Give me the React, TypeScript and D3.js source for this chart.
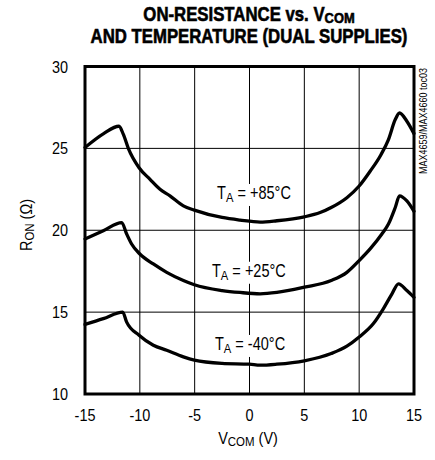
import React from 'react';
import * as d3 from 'd3';

// VCOM (V) and RON (ohm)
const VCOM_85 = [-15, -13.3, -11.9, -11.5, -11.05, -10.07, -9.07, -8.16, -7.25, -6.03, -5.03, -2.5, -0.86, 0.97, 2.49, 5.0, 6.44, 7.45, 8.88, 10.0, 11.0, 12.0, 12.67, 13.29, 13.68, 14.35, 15];
const RON_85 = [25.05, 25.9, 26.35, 25.85, 25.0, 23.82, 23.11, 22.5, 22.1, 21.49, 21.23, 20.78, 20.62, 20.5, 20.58, 20.82, 21.08, 21.39, 21.99, 22.7, 23.6, 24.63, 25.54, 26.76, 27.16, 26.66, 25.9];

const VCOM_25 = [-15, -13.33, -11.65, -11.2, -10.75, -10.0, -8.77, -7.55, -6.03, -5.03, -2.5, -0.86, 0.97, 2.49, 5.0, 7.45, 8.88, 10.0, 11.0, 12.07, 12.67, 13.29, 13.68, 14.35, 15];
const RON_25 = [19.47, 19.97, 20.47, 19.77, 19.16, 18.55, 17.94, 17.43, 16.93, 16.67, 16.32, 16.2, 16.12, 16.2, 16.52, 16.93, 17.43, 18.15, 18.86, 19.77, 20.38, 21.39, 22.1, 21.79, 21.15];

const VCOM_M40 = [-15, -13.33, -11.56, -11.2, -10.07, -8.77, -7.55, -6.03, -5.03, -2.5, 0, 0.97, 2.49, 5.0, 7.45, 8.88, 10.0, 11.3, 12.2, 12.98, 13.59, 14.35, 15];
const RON_M40 = [14.25, 14.6, 15.0, 14.39, 13.59, 12.98, 12.67, 12.27, 12.07, 11.87, 11.82, 11.76, 11.82, 12.03, 12.47, 12.92, 13.48, 14.3, 15.2, 16.1, 16.73, 16.32, 15.9];

const X_TICKS = [-15, -10, -5, 0, 5, 10, 15];
const Y_TICKS = [10, 15, 20, 25, 30];
const TEMP_LABELS = ['+85°C', '+25°C', '-40°C'];

const FONT = '"Liberation Sans", Arial, sans-serif';

const W = 435;
const H = 460;
const M = { left: 85, right: 21, top: 66.5, bottom: 66 };

// narrow text: Liberation Sans squeezed horizontally, like Helvetica Narrow
const Narrow: React.FC<{
  x: number;
  y: number;
  sx?: number;
  rotate?: number;
  anchor?: 'start' | 'middle' | 'end';
  size: number;
  bold?: boolean;
  children: React.ReactNode;
}> = ({ x, y, sx = 0.85, rotate = 0, anchor = 'start', size, bold, children }) => (
  <g transform={`translate(${x},${y}) rotate(${rotate}) scale(${sx},1)`}>
    <text
      textAnchor={anchor}
      fontSize={size}
      fontWeight={bold ? 'bold' : 'normal'}
      stroke={bold ? '#000' : 'none'}
      strokeWidth={bold ? 0.6 : 0}
    >
      {children}
    </text>
  </g>
);

export default function App() {
  const x = d3.scaleLinear().domain([-15, 15]).range([M.left, W - M.right]);
  const y = d3.scaleLinear().domain([10, 30]).range([H - M.bottom, M.top]);

  const line = d3
    .line<[number, number]>()
    .x((d) => x(d[0]))
    .y((d) => y(d[1]))
    .curve(d3.curveMonotoneX);

  const series = [
    { v: VCOM_85, r: RON_85 },
    { v: VCOM_25, r: RON_25 },
    { v: VCOM_M40, r: RON_M40 },
  ];

  // label anchors in data units (left edge of "T", baseline)
  const labelAt = [
    { v: -2.96, r: 21.91 },
    { v: -3.42, r: 17.16 },
    { v: -3.15, r: 12.69 },
  ];

  const [x0, x1] = x.range();
  const yBottom = y(10);
  const yTop = y(30);

  return (
    <svg width={W} height={H} style={{ position: 'absolute', left: 0, top: 0, background: '#fff' }} fontFamily={FONT}>
      {/* title */}
      <Narrow x={249} y={21} sx={0.86} anchor="middle" size={19.5} bold>
        ON-RESISTANCE vs. V
        <tspan fontSize={15} dy={1.5}>COM</tspan>
      </Narrow>
      <Narrow x={249} y={42.5} sx={0.86} anchor="middle" size={19.5} bold>
        AND TEMPERATURE (DUAL SUPPLIES)
      </Narrow>

      {/* grid */}
      <g stroke="#000" strokeWidth={1}>
        {X_TICKS.slice(1, -1).map((t) => (
          <line key={'gx' + t} x1={x(t)} x2={x(t)} y1={yBottom} y2={yTop} />
        ))}
        {Y_TICKS.slice(1, -1).map((t) => (
          <line key={'gy' + t} x1={x0} x2={x1} y1={y(t)} y2={y(t)} />
        ))}
      </g>

      {/* label backgrounds break the grid */}
      {labelAt.map((p, i) => (
        <rect key={'bg' + i} x={x(p.v) - 3} y={y(p.r) - 15} width={80} height={22} fill="#fff" />
      ))}

      {/* curves */}
      {series.map((s, i) => (
        <path
          key={'s' + i}
          d={line(s.v.map((v, j) => [v, s.r[j]] as [number, number])) ?? ''}
          fill="none"
          stroke="#000"
          strokeWidth={3.3}
          strokeLinejoin="round"
          strokeLinecap="round"
        />
      ))}

      {/* curve labels */}
      {labelAt.map((p, i) => (
        <Narrow key={'lb' + i} x={x(p.v)} y={y(p.r)} sx={0.83} size={17.5}>
          T<tspan fontSize={13.5} dy={3}>A</tspan>
          <tspan dy={-3}> = {TEMP_LABELS[i]}</tspan>
        </Narrow>
      ))}

      {/* frame */}
      <rect x={x0} y={yTop} width={x1 - x0} height={yBottom - yTop} fill="none" stroke="#000" strokeWidth={3} />

      {/* ticks */}
      {X_TICKS.map((t) => (
        <Narrow key={'xt' + t} x={x(t)} y={421} anchor="middle" size={17}>
          {t}
        </Narrow>
      ))}
      {Y_TICKS.map((t) => (
        <Narrow key={'yt' + t} x={68} y={y(t) + 6} anchor="end" size={17}>
          {t}
        </Narrow>
      ))}

      {/* axis titles */}
      <Narrow x={248} y={444} anchor="middle" size={17}>
        V<tspan fontSize={13.5} dy={2}>COM</tspan>
        <tspan dy={-2}> (V)</tspan>
      </Narrow>
      <Narrow x={32} y={225} rotate={-90} anchor="middle" size={17}>
        R<tspan fontSize={13.5} dy={2}>ON</tspan>
        <tspan dy={-2}> (Ω)</tspan>
      </Narrow>

      <Narrow x={427} y={68} rotate={-90} sx={0.9} anchor="end" size={10}>
        MAX4659/MAX4660 toc03
      </Narrow>
    </svg>
  );
}
